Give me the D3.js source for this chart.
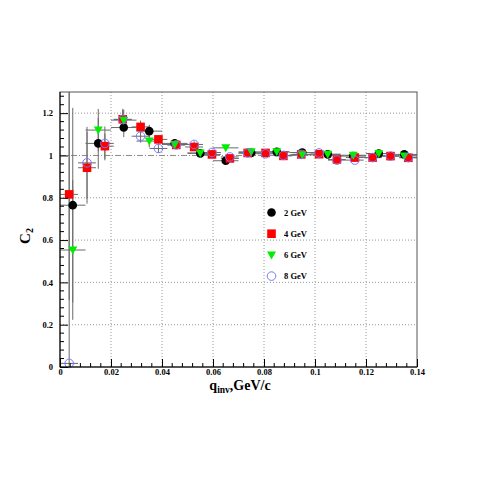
<!DOCTYPE html>
<html>
<head>
<meta charset="utf-8">
<script src="https://cdn.jsdelivr.net/npm/d3@7"></script>
<style>
  html, body { margin: 0; padding: 0; background: #fff; }
  svg { display: block; }
  text { font-family: "Liberation Serif", "Times New Roman", serif; font-weight: bold; }
</style>
</head>
<body>
<div id="chart"></div>
<script>
// bin centres (2 and 6 GeV use 0.01 bins, 4 and 8 GeV use 0.007 bins)
var qWide = [0.005, 0.015, 0.025, 0.035, 0.045, 0.055, 0.065, 0.075, 0.085, 0.095, 0.105, 0.115, 0.125, 0.135];
var qNarrow = [0.0036, 0.0106, 0.0176, 0.0246, 0.0316, 0.0386, 0.0456, 0.0526, 0.0596, 0.0666,
               0.0736, 0.0806, 0.0876, 0.0946, 0.1016, 0.1086, 0.1156, 0.1226, 0.1296, 0.1366];

var c2_2GeV  = [0.765, 1.057, 1.132, 1.115, 1.057, 1.010, 0.975, 1.012, 1.017, 1.014, 1.005, 0.997, 1.009, 1.005];
var err_2GeV = [0.46, 0.12, 0.045, 0.03, 0.02, 0.015, 0.012, 0.01, 0.01, 0.01, 0.008, 0.008, 0.008, 0.008];

var c2_6GeV  = [0.553, 1.12, 1.167, 1.068, 1.052, 1.012, 1.036, 1.017, 1.017, 1.003, 1.006, 1.001, 1.009, 0.998];
var err_6GeV = [0.33, 0.1, 0.05, 0.03, 0.02, 0.015, 0.012, 0.01, 0.01, 0.01, 0.008, 0.008, 0.008, 0.008];

var c2_4GeV  = [0.816, 0.942, 1.044, 1.171, 1.135, 1.076, 1.05, 1.04, 1.005, 0.986,
                1.012, 1.012, 0.998, 1.005, 1.006, 0.981, 0.99, 0.99, 0.997, 0.989];
var err_4GeV = [0.5, 0.17, 0.06, 0.04, 0.03, 0.02, 0.02, 0.015, 0.012, 0.012,
                0.01, 0.01, 0.01, 0.01, 0.008, 0.008, 0.008, 0.008, 0.008, 0.008];

var c2_8GeV  = [0.017, 0.965, 1.057, 1.17, 1.091, 1.033, 1.05, 1.052, 1.014, 0.993,
                1.012, 1.008, 1.0, 1.005, 1.012, 0.978, 0.978, 0.99, 0.997, 0.99];
var err_8GeV = [1.4, 0.17, 0.08, 0.05, 0.03, 0.02, 0.02, 0.015, 0.012, 0.012,
                0.01, 0.01, 0.01, 0.01, 0.008, 0.008, 0.008, 0.008, 0.008, 0.008];

var xTicks = [0, 0.02, 0.04, 0.06, 0.08, 0.1, 0.12, 0.14];
var yTicks = [0, 0.2, 0.4, 0.6, 0.8, 1, 1.2];
var legendLabels = ["2 GeV", "4 GeV", "6 GeV", "8 GeV"];

var width = 491, height = 491;
var frame = { left: 60, right: 417, top: 92, bottom: 367 };

var x = d3.scaleLinear().domain([0, 0.14]).range([frame.left, frame.right]);
var y = d3.scaleLinear().domain([0, 1.3]).range([frame.bottom, frame.top]);

var series = [
  { q: qWide,   c2: c2_2GeV, err: err_2GeV, hw: 0.005,  shape: "circle",   color: "#000" },
  { q: qNarrow, c2: c2_4GeV, err: err_4GeV, hw: 0.0035, shape: "square",   color: "#ff0000" },
  { q: qWide,   c2: c2_6GeV, err: err_6GeV, hw: 0.005,  shape: "triangle", color: "#00ee00" },
  { q: qNarrow, c2: c2_8GeV, err: err_8GeV, hw: 0.0035, shape: "open",     color: "#7777ff" }
];

var svg = d3.select("#chart").append("svg")
  .attr("width", width).attr("height", height);

svg.append("rect").attr("width", width).attr("height", height).attr("fill", "#fff");

svg.append("defs").append("clipPath").attr("id", "plotclip")
  .append("rect")
  .attr("x", frame.left).attr("y", frame.top)
  .attr("width", frame.right - frame.left).attr("height", frame.bottom - frame.top);

// grid
var grid = svg.append("g").attr("stroke", "#999").attr("stroke-dasharray", "1,2").attr("stroke-width", 1);
grid.selectAll(".gx").data(xTicks.filter(function(t) { return t > 0 && t < 0.14; }))
  .enter().append("line")
  .attr("x1", function(d) { return x(d); }).attr("x2", function(d) { return x(d); })
  .attr("y1", frame.top).attr("y2", frame.bottom);
grid.selectAll(".gy").data(yTicks.filter(function(t) { return t > 0 && t !== 1; }))
  .enter().append("line")
  .attr("y1", function(d) { return y(d); }).attr("y2", function(d) { return y(d); })
  .attr("x1", frame.left).attr("x2", frame.right);

// reference line at C2 = 1
svg.append("line")
  .attr("x1", frame.left).attr("x2", frame.right)
  .attr("y1", y(1)).attr("y2", y(1))
  .attr("stroke", "#888").attr("stroke-dasharray", "6,2,1,2");

// error bars
var plot = svg.append("g").attr("clip-path", "url(#plotclip)");
series.forEach(function(s) {
  var pts = s.q.map(function(q, i) { return { q: q, c: s.c2[i], e: s.err[i], hw: s.hw }; });
  var g = plot.append("g").attr("stroke", "#6a6a6a").attr("stroke-width", 1);
  g.selectAll(".ex").data(pts).enter().append("line")
    .attr("x1", function(d) { return x(d.q - d.hw); })
    .attr("x2", function(d) { return x(d.q + d.hw); })
    .attr("y1", function(d) { return y(d.c); })
    .attr("y2", function(d) { return y(d.c); });
  g.selectAll(".ey").data(pts).enter().append("line")
    .attr("x1", function(d) { return x(d.q); })
    .attr("x2", function(d) { return x(d.q); })
    .attr("y1", function(d) { return y(d.c - d.e); })
    .attr("y2", function(d) { return y(d.c + d.e); });
});

// markers
function drawMarker(g, shape, color, cx, cy) {
  if (shape === "circle") {
    g.append("circle").attr("cx", cx).attr("cy", cy).attr("r", 4.3).attr("fill", color);
  } else if (shape === "square") {
    g.append("rect").attr("x", cx - 4.3).attr("y", cy - 4.3).attr("width", 8.6).attr("height", 8.6).attr("fill", color);
  } else if (shape === "triangle") {
    g.append("path")
      .attr("d", "M" + (cx - 4.5) + "," + (cy - 3.5) + "L" + (cx + 4.5) + "," + (cy - 3.5) + "L" + cx + "," + (cy + 4.5) + "Z")
      .attr("fill", color);
  } else {
    g.append("circle").attr("cx", cx).attr("cy", cy).attr("r", 4.3)
      .attr("fill", "none").attr("stroke", color).attr("stroke-width", 1);
  }
}

var markers = svg.append("g");
series.forEach(function(s) {
  s.q.forEach(function(q, i) {
    drawMarker(markers, s.shape, s.color, x(q), y(s.c2[i]));
  });
});

// frame
svg.append("rect")
  .attr("x", frame.left).attr("y", frame.top)
  .attr("width", frame.right - frame.left).attr("height", frame.bottom - frame.top)
  .attr("fill", "none").attr("stroke", "#555").attr("stroke-width", 1);
svg.append("line").attr("x1", frame.left).attr("x2", frame.left)
  .attr("y1", frame.top).attr("y2", frame.bottom).attr("stroke", "#000");
svg.append("line").attr("x1", frame.left).attr("x2", frame.right)
  .attr("y1", frame.bottom).attr("y2", frame.bottom).attr("stroke", "#000");

// axes (ticks inside the frame)
var xAxis = d3.axisBottom(x).tickValues(xTicks).tickSize(-8)
  .tickFormat(function(d) { return d === 0 ? "0" : d3.format("")(+d.toFixed(2)); });
var gx = svg.append("g").attr("transform", "translate(0," + frame.bottom + ")").call(xAxis);
gx.select(".domain").remove();
gx.selectAll("text").attr("dy", "0.8em").attr("y", 1).attr("font-size", 8.5)
  .style("font-family", "'Liberation Serif', serif").style("font-weight", "bold");

var xMinor = d3.range(0, 0.1401, 0.004).filter(function(v) { return Math.abs(v / 0.02 - Math.round(v / 0.02)) > 1e-6; });
svg.append("g").selectAll("line").data(xMinor).enter().append("line")
  .attr("x1", function(d) { return x(d); }).attr("x2", function(d) { return x(d); })
  .attr("y1", frame.bottom).attr("y2", frame.bottom - 4).attr("stroke", "#000");

var yAxis = d3.axisLeft(y).tickValues(yTicks).tickSize(-8)
  .tickFormat(function(d) { return +d.toFixed(1); });
var gy = svg.append("g").attr("transform", "translate(" + frame.left + ",0)").call(yAxis);
gy.select(".domain").remove();
gy.selectAll("text").attr("x", -7).attr("font-size", 8.5)
  .style("font-family", "'Liberation Serif', serif").style("font-weight", "bold");

var yMinor = d3.range(0, 1.3001, 0.04).filter(function(v) { return Math.abs(v / 0.2 - Math.round(v / 0.2)) > 1e-6; });
svg.append("g").selectAll("line").data(yMinor).enter().append("line")
  .attr("x1", frame.left).attr("x2", frame.left + 4)
  .attr("y1", function(d) { return y(d); }).attr("y2", function(d) { return y(d); })
  .attr("stroke", "#000");

// axis titles
var xt = svg.append("text").attr("x", 240).attr("y", 390).attr("text-anchor", "middle")
  .attr("font-size", 14);
xt.append("tspan").text("q");
xt.append("tspan").attr("font-size", 9.5).attr("dy", 3).text("inv");
xt.append("tspan").attr("dy", -3).text(",GeV/c");

var yt = svg.append("text").attr("transform", "translate(30,236) rotate(-90)")
  .attr("text-anchor", "middle").attr("font-size", 15).attr("font-weight", "normal");
yt.append("tspan").text("C");
yt.append("tspan").attr("font-size", 10).attr("dy", 3).text("2");

// legend
var legend = svg.append("g");
series.forEach(function(s, i) {
  var ly = 212.5 + i * 21.2;
  drawMarker(legend, s.shape, s.color, 271.5, ly);
  legend.append("text").attr("x", 284).attr("y", ly + 3).attr("font-size", 8.5).text(legendLabels[i]);
});
</script>
</body>
</html>
